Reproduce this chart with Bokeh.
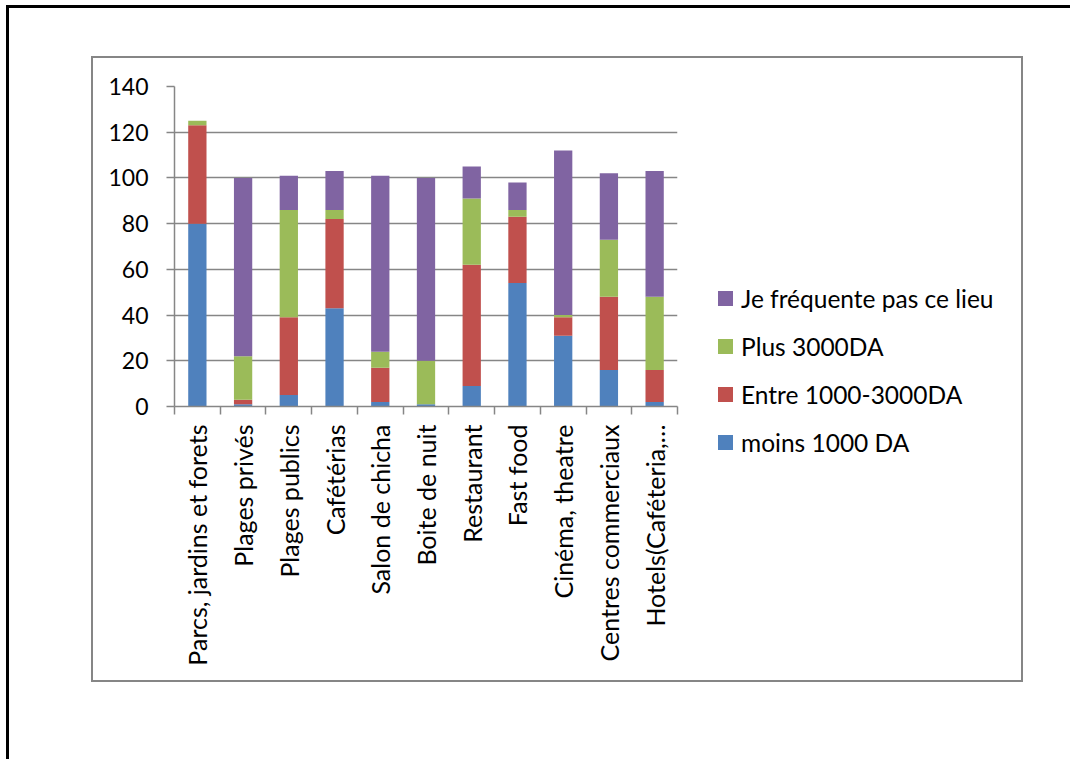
from bokeh.plotting import figure
from bokeh.models import (Range1d, FixedTicker, Column, Row, Div,
                          ColumnDataSource)
from bokeh.embed import file_html
from bokeh.resources import INLINE

# Lieux fréquentés et dépense par sortie
categories = ["Parcs, jardins et forets", "Plages privés", "Plages publics",
              "Cafétérias", "Salon de chicha", "Boite de nuit", "Restaurant",
              "Fast food", "Cinéma, theatre", "Centres commerciaux",
              "Hotels(Caféteria,…"]
moins_1000 = [80, 1, 5, 43, 2, 1, 9, 54, 31, 16, 2]
entre_1000_3000 = [43, 2, 34, 39, 15, 0, 53, 29, 8, 32, 14]
plus_3000 = [2, 19, 47, 4, 7, 19, 29, 3, 1, 25, 32]
ne_frequente_pas = [0, 78, 15, 17, 77, 80, 14, 12, 72, 29, 55]

series_names = ["moins 1000 DA", "Entre 1000-3000DA", "Plus 3000DA",
                "Je fréquente pas ce lieu"]
series_colors = ["#4F81BD", "#C0504D", "#9BBB59", "#8064A2"]
y_ticks = [0, 20, 40, 60, 80, 100, 120, 140]

FONT = "Lato"
GRID = "#868686"

# chart area: plot panel on the left, legend panel on the right
H = 622
W_PLOT, W_LEG = 610, 318
left, right, top, bottom = 81, 584, 28, 348

positions = [i + 0.5 for i in range(len(categories))]
source = ColumnDataSource(dict(
    x=positions,
    s0=moins_1000, s1=entre_1000_3000, s2=plus_3000, s3=ne_frequente_pas,
))

p = figure(width=W_PLOT, height=H, output_backend="svg", toolbar_location=None,
           x_range=Range1d(0, len(categories)), y_range=Range1d(0, 140),
           min_border_left=left, min_border_right=W_PLOT - right,
           min_border_top=top, min_border_bottom=H - bottom,
           outline_line_color=None, background_fill_color="white",
           border_fill_color="white")

p.vbar_stack(["s0", "s1", "s2", "s3"], x="x", width=0.4,
             source=source, color=series_colors, line_color=None)

# y axis
p.yaxis.ticker = FixedTicker(ticks=y_ticks)
p.yaxis.axis_line_color = GRID
p.yaxis.axis_line_width = 1.5
p.yaxis.major_tick_line_color = GRID
p.yaxis.major_tick_line_width = 1.5
p.yaxis.major_tick_in = 0
p.yaxis.major_tick_out = 8
p.yaxis.minor_tick_line_color = None
p.yaxis.major_label_text_font = FONT
p.yaxis.major_label_text_font_size = "23px"
p.yaxis.major_label_text_color = "black"
p.yaxis.major_label_standoff = 18

# x axis: labels at category centres, ticks at category boundaries
p.xaxis.ticker = FixedTicker(ticks=positions,
                             minor_ticks=list(range(len(categories) + 1)))
p.xaxis.major_label_overrides = {pos: name for pos, name in zip(positions, categories)}
p.xaxis.major_label_orientation = 3.14159265 / 2
p.xaxis.axis_line_color = GRID
p.xaxis.axis_line_width = 1.5
p.xaxis.major_tick_line_color = None
p.xaxis.major_tick_in = 0
p.xaxis.major_tick_out = 0
p.xaxis.minor_tick_line_color = GRID
p.xaxis.minor_tick_line_width = 1.5
p.xaxis.minor_tick_in = 0
p.xaxis.minor_tick_out = 8
p.xaxis.major_label_text_font = FONT
p.xaxis.major_label_text_font_size = "25px"
p.xaxis.major_label_text_color = "black"
p.xaxis.major_label_standoff = 10

p.xgrid.grid_line_color = None
p.ygrid.ticker = FixedTicker(ticks=y_ticks)
p.ygrid.grid_line_color = GRID
p.ygrid.grid_line_width = 1.5

# legend: one swatch per series, listed top-down in reverse stacking order
ROW_H, FIRST_ROW = 48, 216
rows = []
for k, i in enumerate(reversed(range(len(series_names)))):
    rows.append(
        f'<div style="position:absolute; left:15px; top:{FIRST_ROW + k * ROW_H}px; '
        f'height:{ROW_H}px; display:flex; align-items:center; white-space:nowrap;">'
        f'<span style="display:inline-block; width:15px; height:15px; '
        f'background:{series_colors[i]}; margin-right:8px;"></span>'
        f'<span>{series_names[i]}</span></div>'
    )
legend_html = (
    f'<div style="position:relative; width:{W_LEG}px; height:{H}px; '
    f'font-family:{FONT}, sans-serif; font-size:24.5px; color:black;">'
    + "".join(rows) + "</div>"
)
legend = Div(text=legend_html, width=W_LEG, height=H,
             styles={"margin": "0", "padding": "0"})

chart = Row(p, legend, spacing=0, styles={"border": "2px solid #868686"})

# page with its black left and top rule
page = Column(chart, styles={
    "margin-left": "6px", "margin-top": "5px",
    "border-left": "3px solid black", "border-top": "3px solid black",
    "padding-left": "82px", "padding-top": "48px",
    "padding-right": "47px", "padding-bottom": "77px",
})

open("out.html", "w").write(file_html(page, INLINE))
